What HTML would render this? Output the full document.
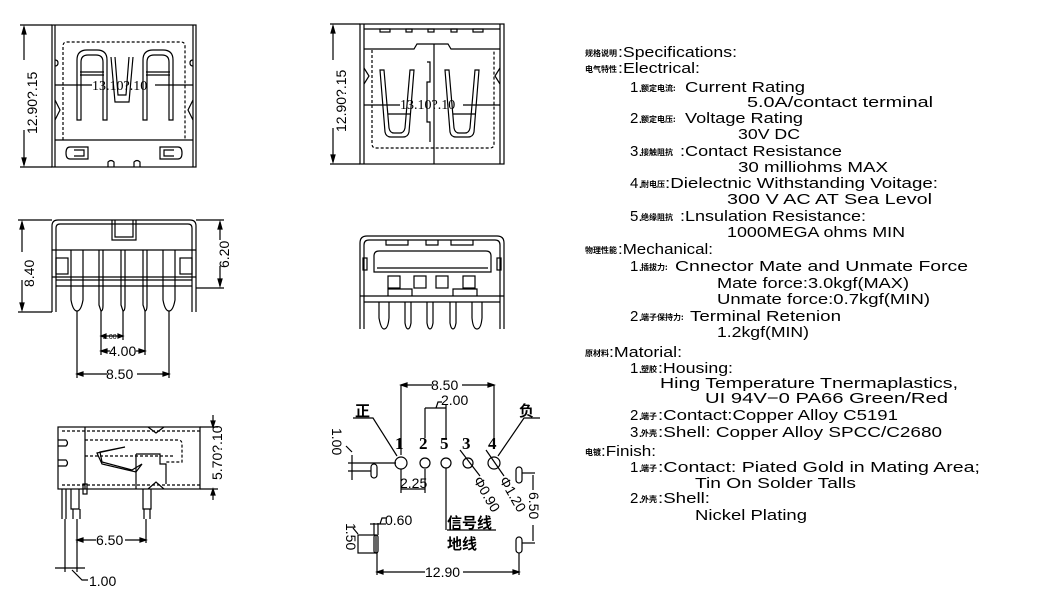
<!DOCTYPE html>
<html><head><meta charset="utf-8"><style>
html,body{margin:0;padding:0;background:#fff;}
svg{display:block;}
text{font-family:"Liberation Sans","Noto Sans CJK SC",sans-serif;fill:#000;}
.t{font-size:15px;}
.c{font-size:8px;font-weight:bold;font-family:"Noto Sans CJK SC",sans-serif;}
.d{font-size:14px;}
.n{font-size:17px;font-weight:bold;font-family:"Liberation Serif",serif;}
</style></head><body>
<svg width="1037" height="594" viewBox="0 0 1037 594" xmlns="http://www.w3.org/2000/svg">
<g fill="none" stroke="#000" stroke-width="1.2">
<!-- VIEW 1 top-left -->
<rect x="52" y="25" width="144" height="142"/>
<line x1="55" y1="25" x2="55" y2="167"/><line x1="193" y1="25" x2="193" y2="167"/>
<line x1="20" y1="25" x2="52" y2="25"/><line x1="20" y1="167" x2="52" y2="167"/>
<line x1="24" y1="27" x2="24" y2="60"/><line x1="24" y1="130" x2="24" y2="165"/>
<path d="M24 27 l-2 7 h4 z M24 165 l-2 -7 h4 z" fill="#000"/>
<path d="M63 140 V46 q0 -4 4 -4 H181 q4 0 4 4 V140" stroke-dasharray="3 2"/>
<line x1="55" y1="140" x2="193" y2="140"/>
<line x1="55" y1="85" x2="92" y2="85"/><line x1="155" y1="85" x2="193" y2="85"/>
<path d="M77 120 V60 q0 -10 10 -10 h10 q10 0 10 10 V120 h-4 V62 q0 -7 -7 -7 h-8 q-7 0 -7 7 V120 z"/>
<line x1="80" y1="72" x2="104" y2="72"/><line x1="80" y1="75" x2="104" y2="75"/>
<path d="M143 120 V60 q0 -10 10 -10 h10 q10 0 10 10 V120 h-4 V62 q0 -7 -7 -7 h-8 q-7 0 -7 7 V120 z"/>
<line x1="146" y1="72" x2="170" y2="72"/><line x1="146" y1="75" x2="170" y2="75"/>
<path d="M111 57 l4 45 h14 l4 -45 M115 57 l3 38 h8 l3 -38"/>
<path d="M70 147 h18 v12 h-18 q-4 0 -4 -6 q0 -6 4 -6 z M74 150 h10 v6 h-10"/>
<path d="M178 147 h-18 v12 h18 q4 0 4 -6 q0 -6 -4 -6 z M174 150 h-10 v6 h10"/>
<path d="M108 167 v-5 q3 -3 6 0 v5 M134 167 v-5 q3 -3 6 0 v5"/>
<path d="M55 60 q3 0 3 3 t-3 3 M193 60 q-3 0 -3 3 t3 3 M55 100 l5 10 l-5 10 M193 100 l-5 10 l5 10"/>
<!-- VIEW 2 top-center -->
<rect x="360" y="24" width="144" height="140"/>
<line x1="364" y1="24" x2="364" y2="164"/><line x1="500" y1="24" x2="500" y2="164"/>
<line x1="364" y1="29" x2="500" y2="29"/>
<path d="M364 49 H414 l3 -5 H448 l3 5 H500"/>
<rect x="380" y="29" width="10" height="3"/><rect x="406" y="29" width="6" height="3"/><rect x="428" y="29" width="6" height="3"/><rect x="451" y="29" width="6" height="3"/><rect x="473" y="29" width="10" height="3"/>
<line x1="330" y1="24" x2="360" y2="24"/><line x1="330" y1="164" x2="360" y2="164"/>
<line x1="333" y1="26" x2="333" y2="60"/><line x1="333" y1="128" x2="333" y2="162"/>
<path d="M333 26 l-2 7 h4 z M333 162 l-2 -7 h4 z" fill="#000"/>
<line x1="434" y1="44" x2="434" y2="164"/>
<path d="M427 62 h3 v20 h-3 v40 h3 v20" />
<path d="M372 50 V144 q0 4 4 4 H490 q4 0 4 -4 V50" stroke-dasharray="3 2"/>
<line x1="364" y1="105" x2="400" y2="105"/><line x1="463" y1="105" x2="500" y2="105"/>
<path d="M380 70 l5 62 q1 5 6 5 h12 q5 0 6 -5 l5 -62 h-4 l-5 58 q-1 5 -5 5 h-6 q-4 0 -5 -5 l-5 -58 z"/>
<path d="M445 70 l5 62 q1 5 6 5 h12 q5 0 6 -5 l5 -62 h-4 l-5 58 q-1 5 -5 5 h-6 q-4 0 -5 -5 l-5 -58 z"/>
<line x1="388" y1="114" x2="410" y2="114"/><line x1="453" y1="114" x2="475" y2="114"/>
<path d="M364 68 l5 8 l-5 8 M500 68 l-5 8 l5 8"/>
<!-- VIEW 3 mid-left -->
<path d="M52 312 V226 q0 -6 6 -6 H190 q6 0 6 6 V312 M56 312 V228 q0 -4 4 -4 H188 q4 0 4 4 V312"/>
<path d="M112 220 v20 h24 v-20 M115 220 v17 h18 v-17"/>
<line x1="52" y1="250" x2="196" y2="250"/>
<line x1="52" y1="277" x2="196" y2="277"/><line x1="56" y1="280" x2="192" y2="280"/><line x1="56" y1="286" x2="192" y2="286"/>
<rect x="56" y="258" width="12" height="16"/><rect x="180" y="258" width="12" height="16"/>
<path d="M71 250 V300 q2 11 6 11 q4 0 6 -11 V250 M99 250 V305 q2 6 2 6 q2 0 2 -6 V250 M121 250 V305 q2 6 2 6 q2 0 2 -6 V250 M143 250 V305 q2 6 2 6 q2 0 2 -6 V250 M163 250 V300 q2 11 6 11 q4 0 6 -11 V250"/>
<line x1="18" y1="220" x2="52" y2="220"/><line x1="18" y1="312" x2="52" y2="312"/>
<line x1="22" y1="222" x2="22" y2="252"/><line x1="22" y1="280" x2="22" y2="310"/>
<path d="M22 222 l-2 7 h4 z M22 310 l-2 -7 h4 z" fill="#000"/>
<line x1="196" y1="220" x2="224" y2="220"/><line x1="196" y1="288" x2="224" y2="288"/>
<line x1="220" y1="222" x2="220" y2="240"/><line x1="220" y1="266" x2="220" y2="286"/>
<path d="M220 222 l-2 7 h4 z M220 286 l-2 -7 h4 z" fill="#000"/>
<line x1="77" y1="311" x2="77" y2="378"/><line x1="101" y1="311" x2="101" y2="355"/><line x1="123" y1="311" x2="123" y2="340"/><line x1="145" y1="311" x2="145" y2="355"/><line x1="169" y1="311" x2="169" y2="378"/>
<line x1="101" y1="336" x2="123" y2="336"/><line x1="101" y1="351" x2="110" y2="351"/><line x1="136" y1="351" x2="145" y2="351"/>
<line x1="77" y1="374" x2="107" y2="374"/><line x1="137" y1="374" x2="169" y2="374"/>
<path d="M101 351 l6 -2 v4 z M145 351 l-6 -2 v4 z M77 374 l6 -2 v4 z M169 374 l-6 -2 v4 z M101 336 l5 -2 v4 z M123 336 l-5 -2 v4 z" fill="#000"/>
<!-- VIEW 4 mid-center -->
<path d="M360 329 V243 q0 -7 7 -7 H497 q7 0 7 7 V329 M364 329 V245 q0 -5 5 -5 H495 q5 0 5 5 V329"/>
<path d="M374 272 V256 q0 -5 5 -5 H486 q5 0 5 5 V272 z M377 268 H488"/>
<rect x="363" y="258" width="4" height="12"/><rect x="497" y="258" width="4" height="12"/>
<path d="M386 240 v5 h22 v-5 M426 240 v5 h12 v-5 M451 240 v5 h22 v-5"/>
<rect x="388" y="276" width="12" height="12"/><rect x="414" y="276" width="12" height="12"/><rect x="436" y="276" width="12" height="12"/><rect x="463" y="276" width="12" height="12"/>
<path d="M388 296 v-7 h24 v7 M453 296 v-7 h24 v7"/>
<line x1="360" y1="296" x2="504" y2="296"/><line x1="364" y1="302" x2="500" y2="302"/>
<path d="M379 302 V318 q2 11 5 11 q4 0 5 -11 V302 M405 302 V323 q1 6 3 6 q2 0 3 -6 V302 M427 302 V323 q1 6 3 6 q2 0 3 -6 V302 M450 302 V323 q1 6 3 6 q2 0 3 -6 V302 M472 302 V318 q1 11 5 11 q4 0 5 -11 V302"/>
<!-- VIEW 5 bottom-left -->
<rect x="58" y="427" width="142" height="62"/>
<line x1="62" y1="431" x2="200" y2="431" stroke-dasharray="3 2"/>
<line x1="62" y1="485" x2="200" y2="485" stroke-dasharray="3 2"/>
<line x1="85" y1="427" x2="85" y2="489"/>
<path d="M85 440 H178 q4 0 4 4 V462 H165 M85 456 H175" stroke-dasharray="3 2"/>
<path d="M97 453 l28 -6 l-25 5 l2 10 l30 8 l10 -6 l-6 8 l-34 -8 z"/>
<path d="M136 454 H160 v10 h6 v20 M136 454 V489"/>
<path d="M148 427 l8 6 l8 -6 M148 489 l8 -7 l8 7"/>
<path d="M58 440 h8 q3 3 0 6 h-8 M58 460 h8 q3 3 0 6 h-8"/>
<path d="M62 489 v30 M66 489 v30 M71 489 v20 h8 v-20 M73 509 v10 M80 509 v10 M143 489 v20 h8 v-20 M144 509 v10 M150 509 v10"/>
<rect x="83" y="484" width="4" height="10"/>
<line x1="200" y1="427" x2="218" y2="427"/><line x1="200" y1="489" x2="218" y2="489"/>
<line x1="213" y1="415" x2="213" y2="427"/><line x1="213" y1="489" x2="213" y2="500"/>
<path d="M213 427 l-2 -6 h4 z M213 489 l-2 6 h4 z" fill="#000"/>
<line x1="77" y1="519" x2="77" y2="543"/><line x1="146" y1="519" x2="146" y2="543"/>
<line x1="77" y1="540" x2="96" y2="540"/><line x1="125" y1="540" x2="146" y2="540"/>
<path d="M77 540 l6 -2 v4 z M146 540 l-6 -2 v4 z" fill="#000"/>
<line x1="65" y1="519" x2="65" y2="572"/><line x1="77" y1="540" x2="77" y2="572"/>
<line x1="55" y1="568" x2="85" y2="568"/><path d="M72 570 l10 10 h6"/>
<!-- VIEW 6 footprint -->
<circle cx="401" cy="463" r="6"/><circle cx="425" cy="463" r="5"/><circle cx="446" cy="463" r="5"/><circle cx="468" cy="463" r="5"/><circle cx="494" cy="463" r="6"/>
<line x1="401" y1="385" x2="401" y2="455"/><line x1="494" y1="385" x2="494" y2="440"/>
<line x1="401" y1="385" x2="432" y2="385"/><line x1="462" y1="385" x2="494" y2="385"/>
<path d="M401 385 l6 -2 v4 z M494 385 l-6 -2 v4 z" fill="#000"/>
<line x1="425" y1="408" x2="425" y2="438"/><line x1="446" y1="405" x2="446" y2="438"/><line x1="425" y1="408" x2="446" y2="408"/>
<path d="M436 408 l2 -6 h4"/>
<path d="M353 418 h20 l24 38 M540 418 h-16 l-26 38"/>
<line x1="460" y1="450" x2="480" y2="476"/><line x1="486" y1="450" x2="504" y2="476"/>
<line x1="446" y1="468" x2="446" y2="530"/>
<line x1="447" y1="530" x2="496" y2="530"/>
<rect x="371" y="464" width="6" height="14" rx="3"/>
<line x1="348" y1="463" x2="396" y2="463"/><line x1="348" y1="471" x2="371" y2="471"/>
<line x1="352" y1="455" x2="352" y2="480"/><path d="M352 452 l-6 -6"/>
<line x1="401" y1="469" x2="401" y2="493"/><line x1="425" y1="469" x2="425" y2="493"/><line x1="401" y1="489" x2="425" y2="489"/>
<rect x="516" y="467" width="6" height="16" rx="3"/><rect x="516" y="537" width="6" height="16" rx="3"/>
<line x1="522" y1="473" x2="535" y2="473"/><line x1="522" y1="543" x2="535" y2="543"/>
<line x1="533" y1="475" x2="533" y2="490"/><line x1="533" y1="525" x2="533" y2="541"/>
<rect x="358" y="535" width="18" height="18"/><rect x="374" y="535" width="4" height="18" rx="2"/>
<line x1="374" y1="523" x2="374" y2="535"/><line x1="378" y1="523" x2="378" y2="535"/><line x1="370" y1="524" x2="386" y2="524"/><path d="M380 524 l2 -6 h4"/>
<path d="M358 534 l-5 -6"/>
<line x1="377" y1="553" x2="377" y2="575"/><line x1="519" y1="553" x2="519" y2="575"/>
<line x1="377" y1="572" x2="425" y2="572"/><line x1="463" y1="572" x2="519" y2="572"/>
<path d="M377 572 l6 -2 v4 z M519 572 l-6 -2 v4 z" fill="#000"/>
</g>
<!-- dimension texts -->
<text class="d" transform="translate(37,134) rotate(-90)">12.90?.15</text>
<text class="d" x="92" y="90" style="font-family:'Liberation Serif',serif">13.10?.10</text>
<text class="d" transform="translate(346,132) rotate(-90)">12.90?.15</text>
<text class="d" x="400" y="109" style="font-family:'Liberation Serif',serif">13.10?.10</text>
<text class="d" transform="translate(34,287) rotate(-90)">8.40</text>
<text class="d" transform="translate(229,268) rotate(-90)">6.20</text>
<text x="103" y="339" style="font-size:7px">2.00</text>
<text class="d" x="109" y="356">4.00</text>
<text class="d" x="106" y="379">8.50</text>
<text class="d" transform="translate(222,480) rotate(-90)">5.70?.10</text>
<text class="d" x="96" y="545">6.50</text>
<text class="d" x="89" y="586">1.00</text>
<text class="d" x="431" y="390">8.50</text>
<text class="d" x="441" y="405">2.00</text>
<text style="font-size:15px;font-weight:bold;font-family:'Noto Sans CJK SC',sans-serif" x="355" y="416">正</text>
<text style="font-size:15px;font-weight:bold;font-family:'Noto Sans CJK SC',sans-serif" x="519" y="416">负</text>
<text class="n" x="395" y="449">1</text><text class="n" x="419" y="449">2</text><text class="n" x="440" y="449">5</text><text class="n" x="462" y="449">3</text><text class="n" x="488" y="449">4</text>
<text class="d" transform="translate(332,428) rotate(90)">1.00</text>
<text class="d" x="400" y="488">2.25</text>
<text class="d" transform="translate(473,480) rotate(60)">Φ0.90</text>
<text class="d" transform="translate(499,480) rotate(60)">Φ1.20</text>
<text style="font-size:15px;font-weight:bold;font-family:'Noto Sans CJK SC',sans-serif" x="447" y="528">信号线</text>
<text style="font-size:15px;font-weight:bold;font-family:'Noto Sans CJK SC',sans-serif" x="447" y="549">地线</text>
<text class="d" transform="translate(529,492) rotate(90)">6.50</text>
<text class="d" x="385" y="525">0.60</text>
<text class="d" transform="translate(346,523) rotate(90)">1.50</text>
<text class="d" x="425" y="577">12.90</text>
<!-- spec text -->
<g lengthAdjust="spacingAndGlyphs">
<text class="c" x="585" y="56">规格说明</text><text class="t" x="618" y="57" textLength="119" lengthAdjust="spacingAndGlyphs">:Specifications:</text>
<text class="c" x="585" y="72">电气特性</text><text class="t" x="618" y="73" textLength="82" lengthAdjust="spacingAndGlyphs">:Electrical:</text>
<text class="t" x="630" y="92">1.</text><text class="c" x="641" y="91">额定电流:</text><text class="t" x="685" y="92" textLength="120" lengthAdjust="spacingAndGlyphs">Current  Rating</text>
<text class="t" x="747" y="107" textLength="186" lengthAdjust="spacingAndGlyphs">5.0A/contact  terminal</text>
<text class="t" x="630" y="123">2.</text><text class="c" x="641" y="122">额定电压:</text><text class="t" x="685" y="123" textLength="118" lengthAdjust="spacingAndGlyphs">Voltage  Rating</text>
<text class="t" x="738" y="139" textLength="62" lengthAdjust="spacingAndGlyphs">30V  DC</text>
<text class="t" x="630" y="156">3.</text><text class="c" x="641" y="155">接触阻抗</text><text class="t" x="680" y="156" textLength="162" lengthAdjust="spacingAndGlyphs">:Contact  Resistance</text>
<text class="t" x="738" y="172" textLength="150" lengthAdjust="spacingAndGlyphs">30  milliohms  MAX</text>
<text class="t" x="630" y="188">4.</text><text class="c" x="641" y="187">耐电压</text><text class="t" x="665" y="188" textLength="273" lengthAdjust="spacingAndGlyphs">:Dielectnic  Withstanding  Voitage:</text>
<text class="t" x="727" y="204" textLength="205" lengthAdjust="spacingAndGlyphs">300  V  AC  AT  Sea  Levol</text>
<text class="t" x="630" y="221">5.</text><text class="c" x="641" y="220">绝缘阻抗</text><text class="t" x="680" y="221" textLength="186" lengthAdjust="spacingAndGlyphs">:Lnsulation  Resistance:</text>
<text class="t" x="727" y="237" textLength="178" lengthAdjust="spacingAndGlyphs">1000MEGA  ohms  MIN</text>
<text class="c" x="585" y="253">物理性能</text><text class="t" x="618" y="254" textLength="95" lengthAdjust="spacingAndGlyphs">:Mechanical:</text>
<text class="t" x="630" y="271">1.</text><text class="c" x="641" y="270">插拔力:</text><text class="t" x="675" y="271" textLength="293" lengthAdjust="spacingAndGlyphs">Cnnector  Mate  and  Unmate  Force</text>
<text class="t" x="717" y="288" textLength="192" lengthAdjust="spacingAndGlyphs">Mate  force:3.0kgf(MAX)</text>
<text class="t" x="717" y="304" textLength="213" lengthAdjust="spacingAndGlyphs">Unmate  force:0.7kgf(MIN)</text>
<text class="t" x="630" y="321">2.</text><text class="c" x="641" y="320">端子保持力:</text><text class="t" x="690" y="321" textLength="151" lengthAdjust="spacingAndGlyphs">Terminal  Retenion</text>
<text class="t" x="717" y="337" textLength="92" lengthAdjust="spacingAndGlyphs">1.2kgf(MIN)</text>
<text class="c" x="585" y="356">原材料</text><text class="t" x="609" y="357" textLength="73" lengthAdjust="spacingAndGlyphs">:Matorial:</text>
<text class="t" x="630" y="373">1.</text><text class="c" x="641" y="372">塑胶</text><text class="t" x="658" y="373" textLength="75" lengthAdjust="spacingAndGlyphs">:Housing:</text>
<text class="t" x="660" y="388" textLength="298" lengthAdjust="spacingAndGlyphs">Hing  Temperature    Tnermaplastics,</text>
<text class="t" x="705" y="403" textLength="243" lengthAdjust="spacingAndGlyphs">UI  94V−0    PA66  Green/Red</text>
<text class="t" x="630" y="420">2.</text><text class="c" x="641" y="419">端子</text><text class="t" x="658" y="420" textLength="240" lengthAdjust="spacingAndGlyphs">:Contact:Copper  Alloy  C5191</text>
<text class="t" x="630" y="437">3.</text><text class="c" x="641" y="436">外壳</text><text class="t" x="658" y="437" textLength="284" lengthAdjust="spacingAndGlyphs">:Shell:  Copper  Alloy  SPCC/C2680</text>
<text class="c" x="585" y="455">电镀</text><text class="t" x="601" y="456" textLength="55" lengthAdjust="spacingAndGlyphs">:Finish:</text>
<text class="t" x="630" y="472">1.</text><text class="c" x="641" y="471">端子</text><text class="t" x="658" y="472" textLength="322" lengthAdjust="spacingAndGlyphs">:Contact:  Piated  Gold  in  Mating  Area;</text>
<text class="t" x="695" y="488" textLength="161" lengthAdjust="spacingAndGlyphs">Tin  On  Solder  Talls</text>
<text class="t" x="630" y="503">2.</text><text class="c" x="641" y="502">外壳</text><text class="t" x="658" y="503" textLength="52" lengthAdjust="spacingAndGlyphs">:Shell:</text>
<text class="t" x="695" y="520" textLength="112" lengthAdjust="spacingAndGlyphs">Nickel  Plating</text>
</g>
</svg>
</body></html>
